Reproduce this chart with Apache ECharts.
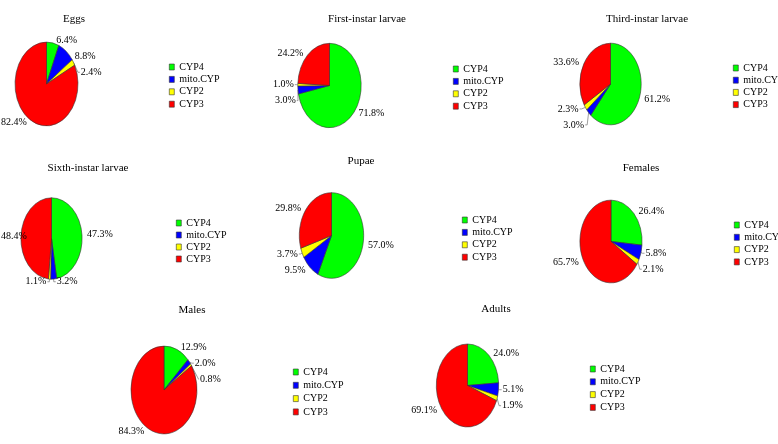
<!DOCTYPE html>
<html><head><meta charset="utf-8">
<script src="https://cdn.jsdelivr.net/npm/echarts@6/dist/echarts.min.js"></script>
<style>
html,body{margin:0;padding:0;background:#fff;overflow:hidden}
#wrap{position:relative;width:778px;height:444px}
#pies{position:absolute;left:0;top:0;width:778px;height:333.8px;transform:scaleY(1.33);transform-origin:0 0}
#main{position:absolute;left:0;top:0;width:778px;height:444px}
</style></head>
<body><div id="wrap"><div id="pies"></div><div id="main"></div></div>
<script>
// ---- data ----
const categories = ['CYP4', 'mito.CYP', 'CYP2', 'CYP3'];
const stageNames = ['Eggs', 'First-instar larvae', 'Third-instar larvae', 'Sixth-instar larvae', 'Pupae', 'Females', 'Males', 'Adults'];
const eggs        = [6.4, 8.8, 2.4, 82.4];
const firstInstar = [71.8, 3.0, 1.0, 24.2];
const thirdInstar = [61.2, 3.0, 2.3, 33.6];
const sixthInstar = [47.3, 3.2, 1.1, 48.4];
const pupae       = [57.0, 9.5, 3.7, 29.8];
const females     = [26.4, 5.8, 2.1, 65.7];
const males       = [12.9, 2.0, 0.8, 84.3];
const adults      = [24.0, 5.1, 1.9, 69.1];
const stageValues = [eggs, firstInstar, thirdInstar, sixthInstar, pupae, females, males, adults];

// ---- style / layout ----
const colors = ['#00ff00', '#0000ff', '#ffff00', '#ff0000'];
const S = 1.33; // vertical stretch of the pies (elliptical look)
const pieLayout = [ // cx, cy, r
  [46.5, 84, 31.5], [329.5, 85.5, 31.7], [610.5, 84, 30.7],
  [51.5, 238.5, 30.6], [331.5, 235.5, 32.2], [611, 241.5, 31.1],
  [164, 390, 33], [467.5, 385.5, 31.2]
];
const titleLayout = [[69, 9], [362, 9], [642, 9], [83, 158], [356, 151], [636, 158], [187, 300], [491, 299]];
const legendLayout = [ // left, top, gap
  [169, 61, 0.4], [453, 63, 0.4], [733, 62, 0.2],
  [176, 217, 0], [462, 214, 0.4], [734, 219, 0.3],
  [293, 366, 1.3], [590, 363, 0.8]
];
const FONT = 'Liberation Serif';
const LINE_LIMIT = 6; // leader lines only for small slices

function pieData(vals, withLines) {
  return categories.map((c, i) => {
    const d = { name: c, value: vals[i] };
    if (withLines) d.labelLine = { show: vals[i] < LINE_LIMIT };
    return d;
  });
}
const fmt = p => p.value.toFixed(1) + '%';
const labelBase = { show: true, position: 'outside', formatter: fmt, fontFamily: FONT,
                    fontSize: 10, distanceToLabelLine: 1, width: 32, overflow: 'none' };

// ---- bottom chart: coloured (stretched) pies + leader lines ----
const pies = echarts.init(document.getElementById('pies'), null, { renderer: 'svg' });
pies.setOption({
  animation: false,
  color: colors,
  series: stageValues.map((vals, k) => ({
    type: 'pie',
    center: [pieLayout[k][0], pieLayout[k][1] / S],
    radius: pieLayout[k][2],
    startAngle: 90,
    clockwise: true,
    silent: true,
    data: pieData(vals, true),
    itemStyle: { borderColor: '#333', borderWidth: 0.5 },
    label: Object.assign({}, labelBase, { color: 'rgba(0,0,0,0)' }),
    labelLine: { show: true, length: 2, length2: 2, lineStyle: { color: '#888', width: 0.7 } }
  }))
});

// ---- top chart: titles, legends, percentage labels ----
const main = echarts.init(document.getElementById('main'));
main.setOption({
  animation: false,
  title: stageNames.map((t, k) => ({
    text: t, left: titleLayout[k][0], top: titleLayout[k][1], textAlign: 'center',
    textStyle: { fontFamily: FONT, fontSize: 11, fontWeight: 'normal', color: '#000' }
  })),
  legend: legendLayout.map((l) => ({
    orient: 'vertical', left: l[0], top: l[1], itemGap: l[2],
    itemWidth: 5, itemHeight: 6, icon: 'rect', padding: 0,
    itemStyle: { borderColor: '#333', borderWidth: 0.6 },
    textStyle: { fontFamily: FONT, fontSize: 10, color: '#000', lineHeight: 12 },
    selectedMode: false,
    data: categories.map((c, i) => ({ name: c, itemStyle: { color: colors[i] } }))
  })),
  series: stageValues.map((vals, k) => ({
    type: 'pie',
    center: [pieLayout[k][0], pieLayout[k][1]],
    radius: pieLayout[k][2],
    startAngle: 90,
    clockwise: true,
    silent: true,
    data: pieData(vals, false),
    itemStyle: { color: 'rgba(0,0,0,0)', borderWidth: 0 },
    label: Object.assign({}, labelBase, { color: '#000' }),
    labelLine: { show: false, length: 2, length2: 2 },
    labelLayout: function (p) {
      const cy = pieLayout[k][1];
      const r = p.labelRect;
      const mid = r.y + r.height / 2;
      const out = { y: cy + (mid - cy) * S, verticalAlign: 'middle' };
      if (r.x < 1) { out.x = 1; out.align = 'left'; }
      return out;
    }
  }))
});
</script>
</body></html>
